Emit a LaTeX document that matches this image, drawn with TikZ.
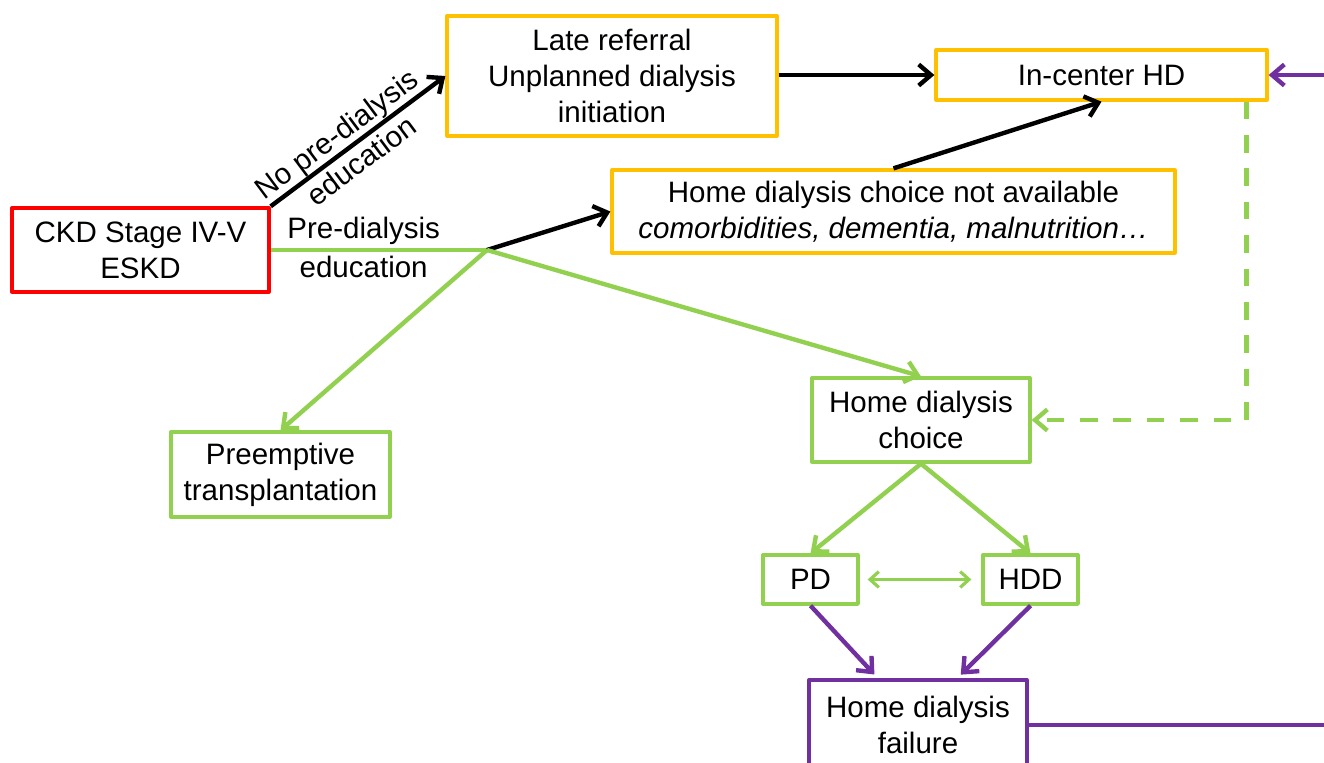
\documentclass[tikz,border=0pt]{standalone}
\usepackage{fontspec}
\setmainfont{Liberation Sans}
\usetikzlibrary{arrows.meta}

\definecolor{dlorange}{HTML}{FFC000}
\definecolor{dlgreen}{HTML}{92D050}
\definecolor{dlred}{HTML}{FF0000}
\definecolor{dlpurple}{HTML}{7030A0}

\tikzset{
  box/.style={draw, line width=1.9pt, align=center, inner sep=2pt,
    font=\fontsize{16.8}{20.4}\selectfont},
  link/.style={line width=2.5pt, -{Straight Barb[length=7pt,width=12pt]}},
  thinlink/.style={line width=1.8pt, {Straight Barb[length=5pt,width=9pt]}-{Straight Barb[length=5pt,width=9pt]}},
  lbl/.style={font=\fontsize{16.8}{19}\selectfont, text=black, align=center, inner sep=1pt},
}

\begin{document}
\begin{tikzpicture}[x=0.02cm, y=-0.02cm, line join=round]
    \useasboundingbox (0,0) rectangle (1324,762);
    \clip (0,0) rectangle (1324,762);

    % boxes
    \node[box, draw=dlred, minimum width=5.14cm, minimum height=1.68cm] (ckd) at (140.5,250) {CKD Stage IV-V\\ESKD};
    \node[box, draw=dlorange, minimum width=6.6cm, minimum height=2.4cm] (late) at (612,76) {Late referral\\Unplanned dialysis\\initiation};
    \node[box, draw=dlorange, minimum width=6.62cm, minimum height=1cm] (hd) at (1101.5,75) {In-center HD};
    \node[box, draw=dlorange, minimum width=11.26cm, minimum height=1.66cm] (noavail) at (893.5,211.5) {Home dialysis choice not available\\\textit{comorbidities, dementia, malnutrition…}};
    \node[box, draw=dlgreen, minimum width=4.36cm, minimum height=1.68cm] (choice) at (921,420) {Home dialysis\\choice};
    \node[box, draw=dlgreen, minimum width=4.38cm, minimum height=1.7cm] (preempt) at (280.5,474.5) {Preemptive\\transplantation};
    \node[box, draw=dlgreen, minimum width=1.9cm, minimum height=0.98cm] (pd) at (810.5,579.5) {PD};
    \node[box, draw=dlgreen, minimum width=1.9cm, minimum height=0.98cm] (hdd) at (1030.5,579.5) {HDD};
    \node[box, draw=dlpurple, minimum width=4.36cm, minimum height=1.8cm] (fail) at (918,725) {Home dialysis\\failure};

    \coordinate (j) at (487,250);

    % education or not
    \draw[link] (ckd.north east) -- (late.west)
      node[lbl, pos=0.44, sloped, above, inner sep=0pt] {No pre-dialysis}
      node[lbl, pos=0.46, sloped, below, inner sep=2.5pt] {education};
    \draw[line width=2.4pt, dlgreen] (ckd.east) -- (j)
      node[lbl, pos=0.43, above, inner sep=2pt] {Pre-dialysis}
      node[lbl, pos=0.43, below, inner sep=2pt] {education};

    \draw[link] (j) -- (noavail.west);
    \draw[link, dlgreen] (j) -- (choice.north);
    \draw[link, dlgreen] (j) -- (preempt.north);

    \draw[link] (late.east |- hd.west) -- (hd.west);
    \draw[link] (noavail.north) -- (hd.south);
    \draw[link, dlgreen, dash pattern=on 10pt off 9pt] ([xshift=-0.44cm]hd.south east) |- (choice.east);

    % home dialysis
    \draw[link, dlgreen] (choice.south) -- (pd.north);
    \draw[link, dlgreen] (choice.south) -- (hdd.north);
    \draw[thinlink, dlgreen, shorten <=0.16cm, shorten >=0.2cm] (pd.east) -- (hdd.west);

    \draw[link, dlpurple, shorten >=3pt] (pd.south) -- ([xshift=-0.8cm]fail.north);
    \draw[link, dlpurple, shorten >=3pt] (hdd.south) -- ([xshift=0.78cm]fail.north);
    \draw[link, dlpurple] (fail.east) -- (1360,725) |- (hd.east);
\end{tikzpicture}
\end{document}
